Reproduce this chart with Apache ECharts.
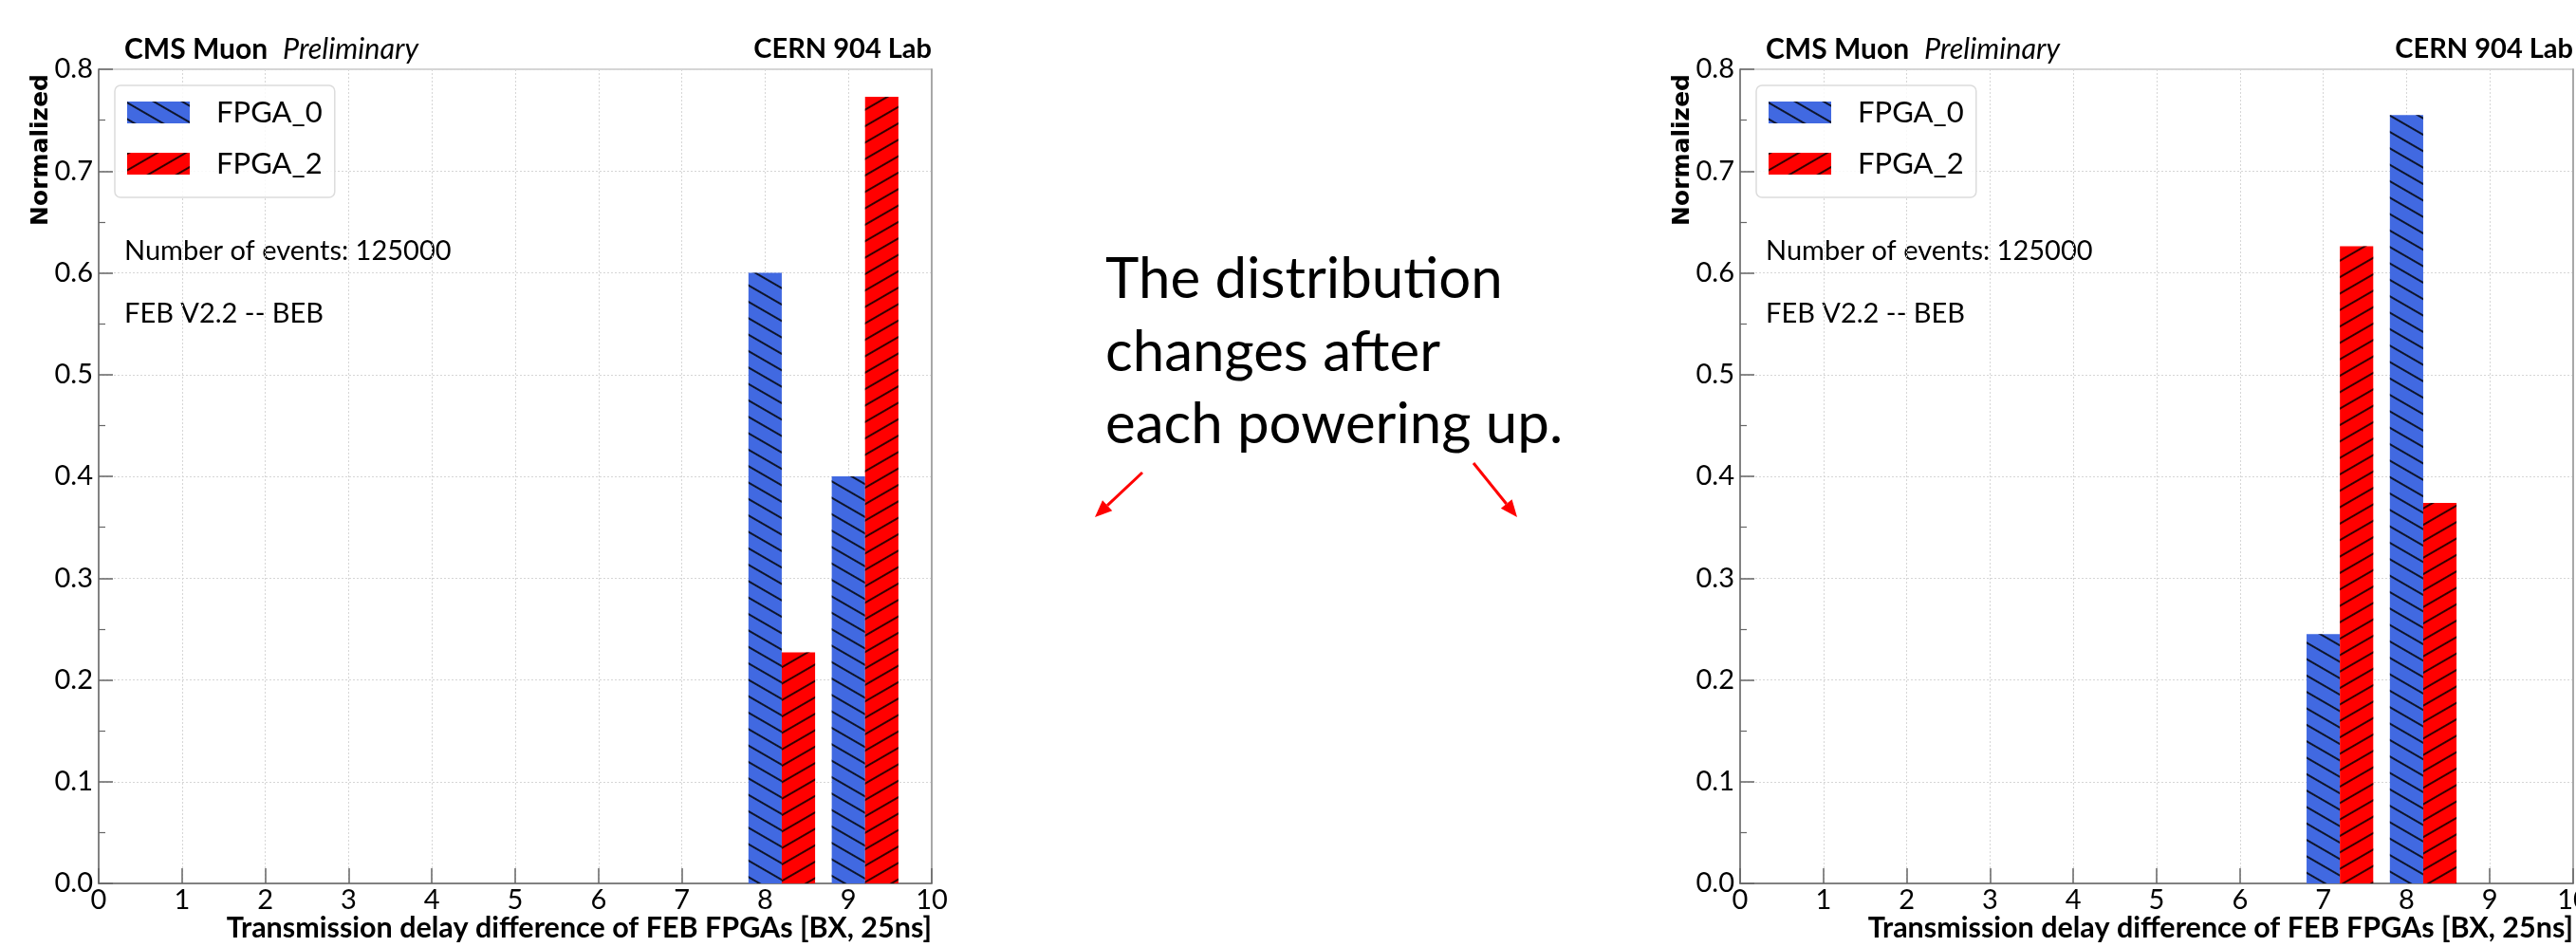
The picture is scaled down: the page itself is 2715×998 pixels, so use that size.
<!DOCTYPE html>
<html><head><meta charset="utf-8">
<script src="https://cdn.jsdelivr.net/npm/echarts@6/dist/echarts.min.js"></script>
<style>html,body{margin:0;padding:0;background:#fff}#c{width:2715px;height:998px}</style>
</head><body><div id="c"></div>
<script>
// ---------- data ----------
const bins = [0, 1, 2, 3, 4, 5, 6, 7, 8, 9];
const seriesNames = ['FPGA_0', 'FPGA_2'];
const leftFPGA0  = [0, 0, 0, 0, 0, 0, 0, 0, 0.600, 0.400];
const leftFPGA2  = [0, 0, 0, 0, 0, 0, 0, 0, 0.227, 0.773];
const rightFPGA0 = [0, 0, 0, 0, 0, 0, 0, 0.245, 0.755, 0];
const rightFPGA2 = [0, 0, 0, 0, 0, 0, 0, 0.626, 0.374, 0];
const xRange = [0, 10];
const yRange = [0, 0.8];
const xTickStep = 1;
const yTickStep = 0.1;
const BAR_W = 0.4;           // bar width in x units (second series shifted by one width)
const cmsLabel = 'CMS Muon';
const prelimLabel = 'Preliminary';
const labLabel = 'CERN 904 Lab';
const eventsLabel = 'Number of events: 125000';
const boardLabel = 'FEB V2.2 -- BEB';
const yTitle = 'Normalized';
const xTitle = 'Transmission delay difference of FEB FPGAs [BX, 25ns]';
const slideLines = ['The distribution', 'changes after', 'each powering up.'];

// ---------- layout / style ----------
const FONT = 'Lato';
const FS = 29;
const PLOT_W = 878, PLOT_TOP = 73, PLOT_H = 858;
const panels = [{ left: 104 }, { left: 1834 }];
const BLUE = '#4169E1', RED = '#FF0000';
const barPx = BAR_W * PLOT_W / (xRange[1] - xRange[0]);
const decalBack = { symbol: 'rect', symbolSize: 1, dashArrayX: [1, 0], dashArrayY: [2, 13], rotation: Math.PI / 6, color: 'rgba(0,0,0,0.8)' };
const decalFwd  = { symbol: 'rect', symbolSize: 1, dashArrayX: [1, 0], dashArrayY: [2, 13], rotation: -Math.PI / 6, color: 'rgba(0,0,0,0.8)' };

const grids = [], xAxes = [], yAxes = [], series = [], legends = [], graphics = [];
const panelData = [[leftFPGA0, leftFPGA2], [rightFPGA0, rightFPGA2]];

panels.forEach((p, gi) => {
  grids.push({ left: p.left, top: PLOT_TOP, width: PLOT_W, height: PLOT_H, show: true,
    borderColor: '#c8c8c8', borderWidth: 1.5, backgroundColor: 'transparent', outerBoundsMode: 'none', containLabel: false });
  xAxes.push({ gridIndex: gi, type: 'value', min: xRange[0], max: xRange[1], interval: xTickStep,
    axisLine: { show: true, onZero: false, lineStyle: { color: '#666', width: 1.5 } },
    axisTick: { show: true, inside: true, length: 16, lineStyle: { color: '#666', width: 1.5 } },
    axisLabel: { show: true, margin: 3, fontFamily: FONT, fontSize: FS, color: '#000' },
    splitLine: { show: true, lineStyle: { color: '#d6d6d6', width: 1, type: [2, 2] } } });
  yAxes.push({ gridIndex: gi, type: 'value', min: yRange[0], max: yRange[1], interval: yTickStep,
    axisLine: { show: true, onZero: false, lineStyle: { color: '#666', width: 1.5 } },
    axisTick: { show: true, inside: true, length: 15, lineStyle: { color: '#666', width: 1.5 } },
    minorTick: { show: true, splitNumber: 2, length: 7, lineStyle: { color: '#666', width: 1.2 } },
    axisLabel: { show: true, margin: 6, fontFamily: FONT, fontSize: FS, color: '#000',
      formatter: v => v.toFixed(1) },
    splitLine: { show: true, lineStyle: { color: '#d6d6d6', width: 1, type: [2, 2] } } });
  yAxes.push({ gridIndex: gi, type: 'value', position: 'right', min: yRange[0], max: yRange[1],
    axisLine: { show: true, onZero: false, lineStyle: { color: '#999', width: 1.5 } },
    axisTick: { show: false }, axisLabel: { show: false }, splitLine: { show: false } });

  const [d0, d2] = panelData[gi];
  series.push({ type: 'bar', name: seriesNames[0], xAxisIndex: gi, yAxisIndex: gi * 2,
    data: bins.map((b, i) => [b, d0[i]]), barWidth: barPx, barGap: '-100%',
    itemStyle: { color: BLUE, decal: decalBack } });
  series.push({ type: 'bar', name: seriesNames[1], xAxisIndex: gi, yAxisIndex: gi * 2,
    data: bins.map((b, i) => [b + BAR_W, d2[i]]), barWidth: barPx, barGap: '-100%',
    itemStyle: { color: RED, decal: decalFwd } });

  legends.push({ left: p.left + 17, top: 90, orient: 'vertical', data: seriesNames, icon: 'rect',
    itemWidth: 66, itemHeight: 23, itemGap: 23, padding: [13, 13, 20, 13],
    backgroundColor: 'rgba(255,255,255,0.85)', borderColor: '#dcdcdc', borderWidth: 1.5, borderRadius: 6,
    selectedMode: false,
    textStyle: { fontFamily: FONT, fontSize: 31, color: '#000', padding: [0, 0, 0, 23], lineHeight: 23 } });

  const L = p.left, R = p.left + PLOT_W;
  const txt = (text, x, y, font, align) => ({ type: 'text', silent: true, style: { text, x, y, font, fill: '#000',
    align: align || 'left', textAlign: align || 'left', verticalAlign: 'middle', textVerticalAlign: 'middle' } });
  graphics.push(txt(cmsLabel, L + 27, 52, 'bold 30px ' + FONT));
  graphics.push(txt(prelimLabel, L + 194, 52, 'italic 30.5px ' + FONT));
  graphics.push(txt(labLabel, R, 52, 'bold 29px ' + FONT, 'right'));
  graphics.push(txt(eventsLabel, L + 27, 265, FS + 'px ' + FONT));
  graphics.push(txt(boardLabel, L + 27, 331, FS + 'px ' + FONT));
  graphics.push(txt(xTitle, R, 978, 'bold 30.5px ' + FONT, 'right'));
  graphics.push({ type: 'text', silent: true, x: L - 61, y: PLOT_TOP + 5, rotation: Math.PI / 2,
    style: { text: yTitle, font: 'bold 25px "DejaVu Sans"', fill: '#000', align: 'right', textAlign: 'right',
      verticalAlign: 'middle', textVerticalAlign: 'middle' } });
});

// slide annotation text
const slideY = [295, 372, 448];
slideLines.forEach((t, i) => graphics.push({ type: 'text', silent: true,
  style: { text: t, x: 1165, y: slideY[i], font: '60px ' + FONT, fill: '#000', align: 'left', textAlign: 'left',
    verticalAlign: 'middle', textVerticalAlign: 'middle' } }));

// arrows
function arrow(x1, y1, x2, y2) {
  const dx = x2 - x1, dy = y2 - y1, len = Math.hypot(dx, dy), ux = dx / len, uy = dy / len;
  const hl = 18, hw = 7.5;
  const bx = x2 - ux * hl, by = y2 - uy * hl;
  graphics.push({ type: 'line', silent: true, shape: { x1, y1, x2: bx, y2: by }, style: { stroke: RED, lineWidth: 3 } });
  graphics.push({ type: 'polygon', silent: true, shape: { points: [[x2, y2], [bx - uy * hw, by + ux * hw], [bx + uy * hw, by - ux * hw]] },
    style: { fill: RED } });
}
arrow(1204, 498, 1154, 545);
arrow(1553, 488, 1599, 545);

const chart = echarts.init(document.getElementById('c'), null, { renderer: 'canvas' });
chart.setOption({
  animation: false,
  backgroundColor: '#fff',
  grid: grids, xAxis: xAxes, yAxis: yAxes, series, legend: legends, graphic: graphics,
  tooltip: { show: false }
});
</script></body></html>
